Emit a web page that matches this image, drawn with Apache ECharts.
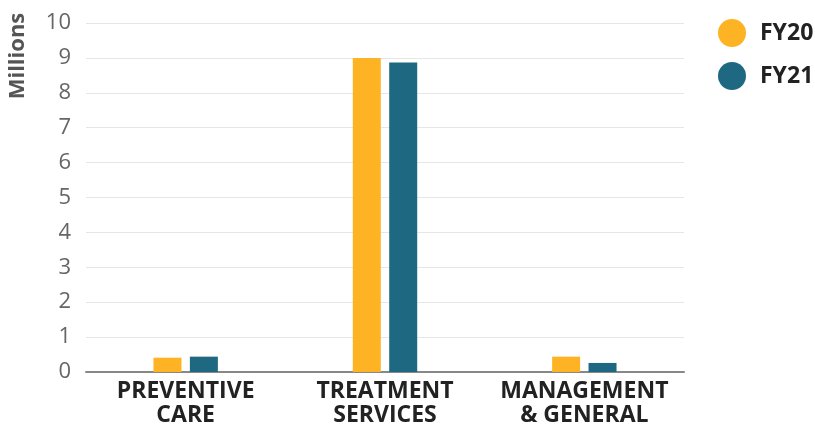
<!DOCTYPE html>
<html>
<head>
<meta charset="utf-8">
<script src="https://cdn.jsdelivr.net/npm/echarts@6/dist/echarts.min.js"></script>
<style>
html,body{margin:0;padding:0;background:#fff;}
#chart{width:815px;height:425px;}
</style>
</head>
<body>
<div id="chart"></div>
<script>
const categories = ['PREVENTIVE\nCARE', 'TREATMENT\nSERVICES', 'MANAGEMENT\n& GENERAL'];
const seriesNames = ['FY20', 'FY21'];
const fy20 = [0.41, 9.0, 0.44];
const fy21 = [0.44, 8.87, 0.26];
const yTicks = [0, 1, 2, 3, 4, 5, 6, 7, 8, 9, 10];
const yAxisTitle = 'Millions';

const chart = echarts.init(document.getElementById('chart'));
const FONT = '"Open Sans", sans-serif';
chart.setOption({
  animation: false,
  backgroundColor: '#ffffff',
  color: ['#FDB323', '#1F6882'],
  grid: { left: 86, right: 131, top: 23, bottom: 53, containLabel: false, outerBoundsMode: 'none' },
  legend: {
    orient: 'vertical',
    left: 713,
    top: 14,
    itemWidth: 28,
    itemHeight: 28,
    itemGap: 15,
    icon: 'circle',
    data: seriesNames,
    textStyle: { fontFamily: FONT, fontWeight: 'bold', fontSize: 23, color: '#222', padding: [0, 0, 0, 9] }
  },
  graphic: [{
    type: 'text',
    x: 18, y: 56,
    rotation: Math.PI / 2,
    style: {
      text: yAxisTitle,
      fontFamily: FONT, fontWeight: 'bold', fontSize: 22, fill: '#555',
      align: 'center', verticalAlign: 'middle'
    }
  }],
  xAxis: {
    type: 'category',
    data: categories,
    axisLine: { show: true, lineStyle: { color: '#888', width: 2 } },
    axisTick: { show: false },
    axisLabel: {
      fontFamily: FONT, fontWeight: 'bold', fontSize: 23, color: '#222',
      lineHeight: 24, margin: 7, interval: 0
    }
  },
  yAxis: {
    type: 'value',
    min: 0, max: 10, interval: 1,
    axisLine: { show: false },
    axisTick: { show: false },
    axisLabel: {
      fontFamily: FONT, fontSize: 22, color: '#666', margin: 15,
      formatter: v => yTicks.includes(v) ? String(v) : ''
    },
    splitLine: { lineStyle: { color: '#e6e6e6', width: 1 } }
  },
  series: [
    { name: seriesNames[0], type: 'bar', data: fy20, barWidth: 28, barGap: '30%' },
    { name: seriesNames[1], type: 'bar', data: fy21, barWidth: 28, barGap: '30%' }
  ]
});
</script>
</body>
</html>
